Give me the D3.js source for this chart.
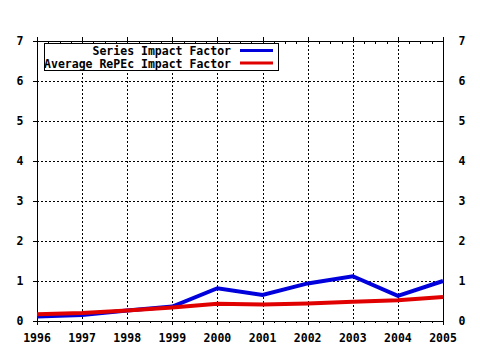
<!DOCTYPE html>
<html><head><meta charset="utf-8">
<script src="https://cdn.jsdelivr.net/npm/d3@7"></script>
<style>body{margin:0;background:#fff}svg{display:block}text{font-family:"DejaVu Sans Mono",monospace;font-weight:bold;font-size:11.5px;fill:#000}</style>
</head><body><svg id="c" width="480" height="350"></svg>
<script>
const years = [1996,1997,1998,1999,2000,2001,2002,2003,2004,2005];
const seriesIF = [0.11,0.15,0.26,0.36,0.82,0.65,0.94,1.12,0.63,1.0];
const averageIF = [0.17,0.2,0.26,0.34,0.43,0.41,0.44,0.48,0.52,0.6];
const yTicks = [0,1,2,3,4,5,6,7];
const seriesNames = ["Series Impact Factor","Average RePEc Impact Factor"];

const svg = d3.select("#c");
const L=37,R=443,T=41,B=321;
const x = d3.scaleLinear().domain([1996,2005]).range([L,R]);
const y = d3.scaleLinear().domain([0,7]).range([B,T]);

// gridlines
const g = svg.append("g").attr("stroke","#000").attr("stroke-width",1).attr("stroke-dasharray","2,2");
g.selectAll(".vg").data(years.slice(1,-1)).join("line")
  .attr("x1",d=>Math.round(x(d))+0.5).attr("x2",d=>Math.round(x(d))+0.5).attr("y1",T).attr("y2",B);
g.selectAll(".hg").data(yTicks.slice(1,-1)).join("line")
  .attr("y1",d=>Math.round(y(d))+0.5).attr("y2",d=>Math.round(y(d))+0.5).attr("x1",L).attr("x2",R);

// minor ticks (quarter years)
const minor = d3.range(1996,2005.01,0.25);
const ax = svg.append("g").attr("stroke","#000").attr("stroke-width",1);
ax.selectAll(".mt").data(minor).join("line")
  .attr("x1",d=>Math.round(x(d))+0.5).attr("x2",d=>Math.round(x(d))+0.5)
  .attr("y1",T).attr("y2",d=>Number.isInteger(d)?T-4:T+3);
ax.selectAll(".mb").data(minor).join("line")
  .attr("x1",d=>Math.round(x(d))+0.5).attr("x2",d=>Math.round(x(d))+0.5)
  .attr("y1",B).attr("y2",d=>Number.isInteger(d)?B+4:B+2);
ax.selectAll(".yl").data(yTicks).join("line")
  .attr("y1",d=>Math.round(y(d))+0.5).attr("y2",d=>Math.round(y(d))+0.5).attr("x1",L-4).attr("x2",L);
ax.selectAll(".yr").data(yTicks).join("line")
  .attr("y1",d=>Math.round(y(d))+0.5).attr("y2",d=>Math.round(y(d))+0.5).attr("x1",R-4).attr("x2",R);
// frame
ax.append("line").attr("x1",L+0.5).attr("x2",L+0.5).attr("y1",T).attr("y2",B+1);
ax.append("line").attr("x1",R+0.5).attr("x2",R+0.5).attr("y1",T).attr("y2",B+1);
ax.append("line").attr("x1",L).attr("x2",R+1).attr("y1",B+0.5).attr("y2",B+0.5);
ax.append("line").attr("x1",L).attr("x2",R+1).attr("y1",T+0.5).attr("y2",T+0.5);

// labels
svg.selectAll(".xl").data(years).join("text")
  .attr("x",d=>x(d)).attr("y",342).attr("text-anchor","middle").text(d=>d);
svg.selectAll(".ylt").data(yTicks).join("text")
  .attr("x",20).attr("y",d=>y(d)+4).attr("text-anchor","middle").text(d=>d);
svg.selectAll(".yrt").data(yTicks).join("text")
  .attr("x",462).attr("y",d=>y(d)+4).attr("text-anchor","middle").text(d=>d);

// lines
const line = d3.line().x((d,i)=>x(years[i])).y(d=>y(d));
svg.append("path").datum(seriesIF).attr("d",line).attr("fill","none").attr("stroke","#0000dd").attr("stroke-width",4);
svg.append("path").datum(averageIF).attr("d",line).attr("fill","none").attr("stroke","#e00000").attr("stroke-width",4);

// legend
const lg = svg.append("g");
lg.append("rect").attr("x",44.5).attr("y",43.5).attr("width",234).attr("height",27).attr("fill","#fff").attr("stroke","#000");
const colors=["#0000dd","#e00000"];
seriesNames.forEach((n,i)=>{
  const yy = 50.5+i*12.5;
  lg.append("text").attr("x",231).attr("y",yy+4.5).attr("text-anchor","end").text(n);
  lg.append("line").attr("x1",240).attr("x2",273).attr("y1",yy).attr("y2",yy).attr("stroke",colors[i]).attr("stroke-width",3);
});
</script></body></html>
